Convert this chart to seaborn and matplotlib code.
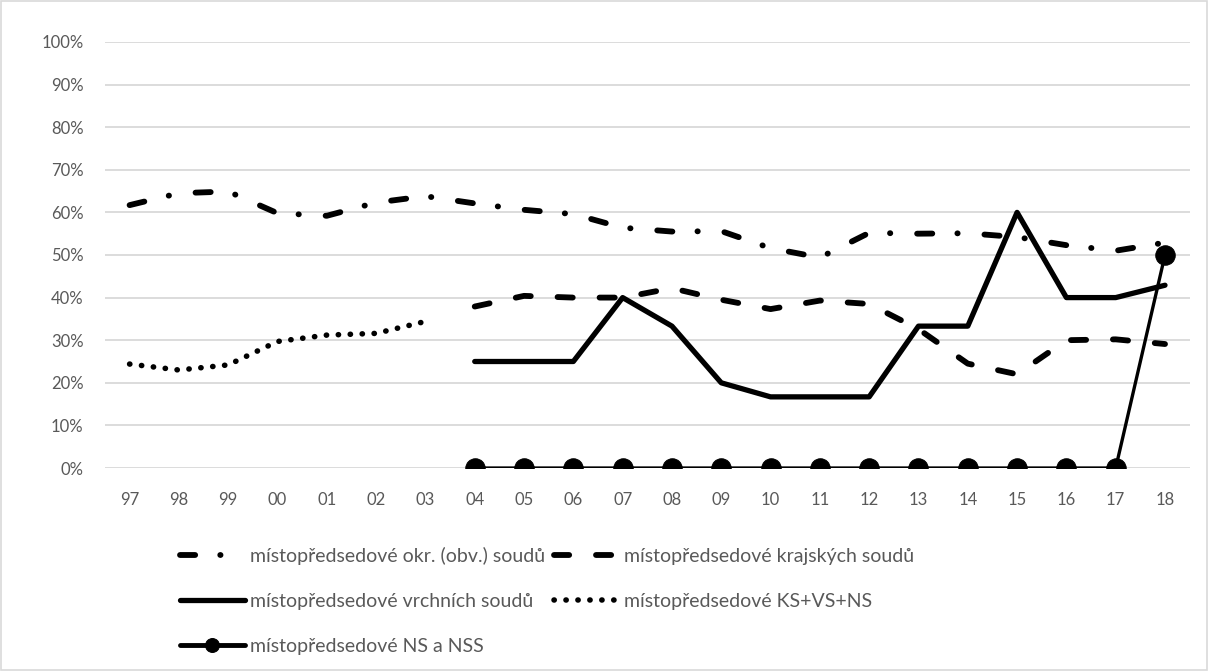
import matplotlib
matplotlib.use("Agg")
import matplotlib.pyplot as plt
import seaborn as sns
import pandas as pd
from matplotlib.patches import Rectangle

# data (percent)
year_labels = ["97", "98", "99", "00", "01", "02", "03", "04", "05", "06", "07",
               "08", "09", "10", "11", "12", "13", "14", "15", "16", "17", "18"]
years = [1997, 1998, 1999, 2000, 2001, 2002, 2003, 2004, 2005, 2006, 2007,
         2008, 2009, 2010, 2011, 2012, 2013, 2014, 2015, 2016, 2017, 2018]
years_late = [2004, 2005, 2006, 2007, 2008, 2009, 2010, 2011,
              2012, 2013, 2014, 2015, 2016, 2017, 2018]
years_early = [1997, 1998, 1999, 2000, 2001, 2002, 2003]

okr = [61.7, 64.5, 64.9, 59.8, 59.2, 62.3, 63.8, 62.1, 60.6, 59.6, 56.4,
       55.5, 55.6, 51.6, 49.4, 55.2, 55.0, 55.1, 54.2, 52.3, 51.0, 52.9]
kraj = [37.9, 40.4, 40.0, 40.0, 42.2, 39.5, 37.3, 39.3, 38.5, 32.6, 24.5,
        22.0, 30.0, 30.2, 29.1]
vrch = [25.0, 25.0, 25.0, 40.0, 33.3, 20.0, 16.7, 16.7, 16.7, 33.3, 33.3,
        60.0, 40.0, 40.0, 42.9]
ks_vs_ns = [24.4, 23.0, 24.2, 29.7, 31.2, 31.6, 34.4]
ns_nss = [0, 0, 0, 0, 0, 0, 0, 0, 0, 0, 0, 0, 0, 0, 50.0]

labels = ["místopředsedové okr. (obv.) soudů",
          "místopředsedové krajských soudů",
          "místopředsedové vrchních soudů",
          "místopředsedové KS+VS+NS",
          "místopředsedové NS a NSS"]

sns.set_theme(style="white")
plt.rcParams["font.family"] = ["Lato", "DejaVu Sans"]

fig = plt.figure(figsize=(12.09, 6.71), dpi=100)
ax = fig.add_axes([0.0868, 0.3025, 0.8972, 0.635])

grey = "#595959"
sns.lineplot(x=years, y=okr, ax=ax, color="black", lw=4.2,
             linestyle=(0, (2.6, 4.3, 0.05, 4.6)), dash_capstyle="round",
             label=labels[0])
sns.lineplot(x=years_late, y=kraj, ax=ax, color="black", lw=4.2,
             linestyle=(0, (2.6, 4.6)), dash_capstyle="round",
             label=labels[1])
sns.lineplot(x=years_late, y=vrch, ax=ax, color="black", lw=3.8,
             label=labels[2])
sns.lineplot(x=years_early, y=ks_vs_ns, ax=ax, color="black", lw=4.0,
             linestyle=(0, (0.05, 2.1)), dash_capstyle="round",
             label=labels[3])
sns.lineplot(x=years_late, y=ns_nss, ax=ax, color="black", lw=2.4,
             marker="o", markersize=14, markeredgecolor="black",
             label=labels[4])

ax.set_xlim(1996.5, 2018.5)
ax.set_ylim(0, 100)
ax.set_yticks(range(0, 101, 10))
ax.set_yticklabels([f"{v}%" for v in range(0, 101, 10)])
ax.set_xticks(years)
ax.set_xticklabels(year_labels)
ax.grid(axis="y", color="#d9d9d9", lw=1.3)
ax.set_axisbelow(True)
for s in ax.spines.values():
    s.set_visible(False)
ax.tick_params(axis="both", colors=grey, labelsize=12, length=0)
ax.tick_params(axis="y", pad=15.5)
ax.tick_params(axis="x", pad=17.5)
ax.set_xlabel("")
ax.set_ylabel("")

# legend row-wise like Excel
h, l = ax.get_legend_handles_labels()
order = [0, 2, 4, 1, 3]
leg = ax.legend([h[i] for i in order], [l[i] for i in order], ncol=2,
                loc="upper center", bbox_to_anchor=(0.4525, 0.2116),
                bbox_transform=fig.transFigure, frameon=False,
                handlelength=3.35, handletextpad=0.25, columnspacing=0.5,
                labelspacing=1.45, fontsize=14, labelcolor=grey,
                alignment="left")
leg.legend_handles[2].set_markersize(10)
leg.legend_handles[2].set_linewidth(3.5)

fig.patches.append(Rectangle((0.001, 0.001), 0.997, 0.997, transform=fig.transFigure,
                             fill=False, edgecolor="#d9d9d9", lw=1.2))

fig.savefig("out.png", dpi=100)
